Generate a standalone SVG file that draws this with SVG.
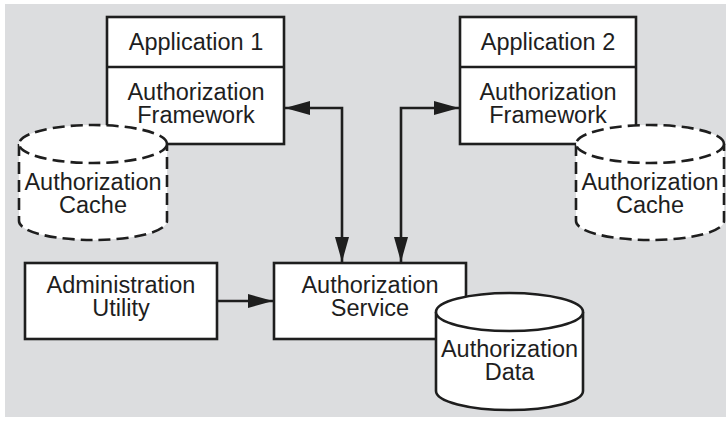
<svg xmlns="http://www.w3.org/2000/svg" width="726" height="421" viewBox="0 0 726 421">
<style>
  .box { fill: #ffffff; stroke: #1e1e1e; stroke-width: 2.6; }
  .cyl { fill: #ffffff; stroke: #1e1e1e; stroke-width: 2.6; }
  .dash { stroke-dasharray: 12 6; }
  .conn { fill: none; stroke: #1e1e1e; stroke-width: 2.6; }
  text { font-family: "Liberation Sans", Arial, Helvetica, sans-serif; font-size: 23.5px; fill: #1e1e1e; text-anchor: middle; }
</style>
<defs>
  <marker id="ah" markerUnits="userSpaceOnUse" markerWidth="26" markerHeight="16" refX="25" refY="7" orient="auto-start-reverse">
    <path d="M0,0 L25,7 L0,14 Z" fill="#1e1e1e"/>
  </marker>
</defs>
<rect x="5" y="4" width="721" height="413" fill="#dcdddf"/>

<g id="app1">
  <rect class="box" x="107" y="17" width="177" height="127"/>
  <line x1="107" y1="67" x2="284" y2="67" stroke="#1e1e1e" stroke-width="2.6"/>
  <text x="196" y="50">Application 1</text>
  <text x="196" y="100">Authorization</text>
  <text x="196" y="123">Framework</text>
</g>
<g id="cache1">
  <path class="cyl dash" d="M19,144 L19,221 A74,19 0 0 0 167,221 L167,144"/>
  <ellipse class="cyl dash" cx="93" cy="144" rx="74" ry="19"/>
  <text x="93" y="190">Authorization</text>
  <text x="93" y="213">Cache</text>
</g>

<g id="app2">
  <rect class="box" x="460" y="17" width="176" height="127"/>
  <line x1="460" y1="67" x2="636" y2="67" stroke="#1e1e1e" stroke-width="2.6"/>
  <text x="548" y="50">Application 2</text>
  <text x="548" y="100">Authorization</text>
  <text x="548" y="123">Framework</text>
</g>
<g id="cache2">
  <path class="cyl dash" d="M576,144 L576,221 A74,19 0 0 0 724,221 L724,144"/>
  <ellipse class="cyl dash" cx="650" cy="144" rx="74" ry="19"/>
  <text x="650" y="190">Authorization</text>
  <text x="650" y="213">Cache</text>
</g>

<g id="admin">
  <rect class="box" x="25" y="263" width="192" height="76"/>
  <text x="121" y="293">Administration</text>
  <text x="121" y="316">Utility</text>
</g>

<g id="service">
  <rect class="box" x="274" y="263" width="192" height="76"/>
  <text x="370" y="293">Authorization</text>
  <text x="370" y="316">Service</text>
</g>

<g id="data">
  <path class="cyl" d="M436,312 L436,391 A73.5,19 0 0 0 583,391 L583,312"/>
  <ellipse class="cyl" cx="509.5" cy="312" rx="73.5" ry="19"/>
  <text x="509.5" y="357">Authorization</text>
  <text x="509.5" y="380">Data</text>
</g>

<g id="connectors">
  <path class="conn" d="M285,108 H342 V262" marker-start="url(#ah)" marker-end="url(#ah)"/>
  <path class="conn" d="M459,108 H401 V262" marker-start="url(#ah)" marker-end="url(#ah)"/>
  <path class="conn" d="M217,301 H273" marker-end="url(#ah)"/>
</g>
</svg>
